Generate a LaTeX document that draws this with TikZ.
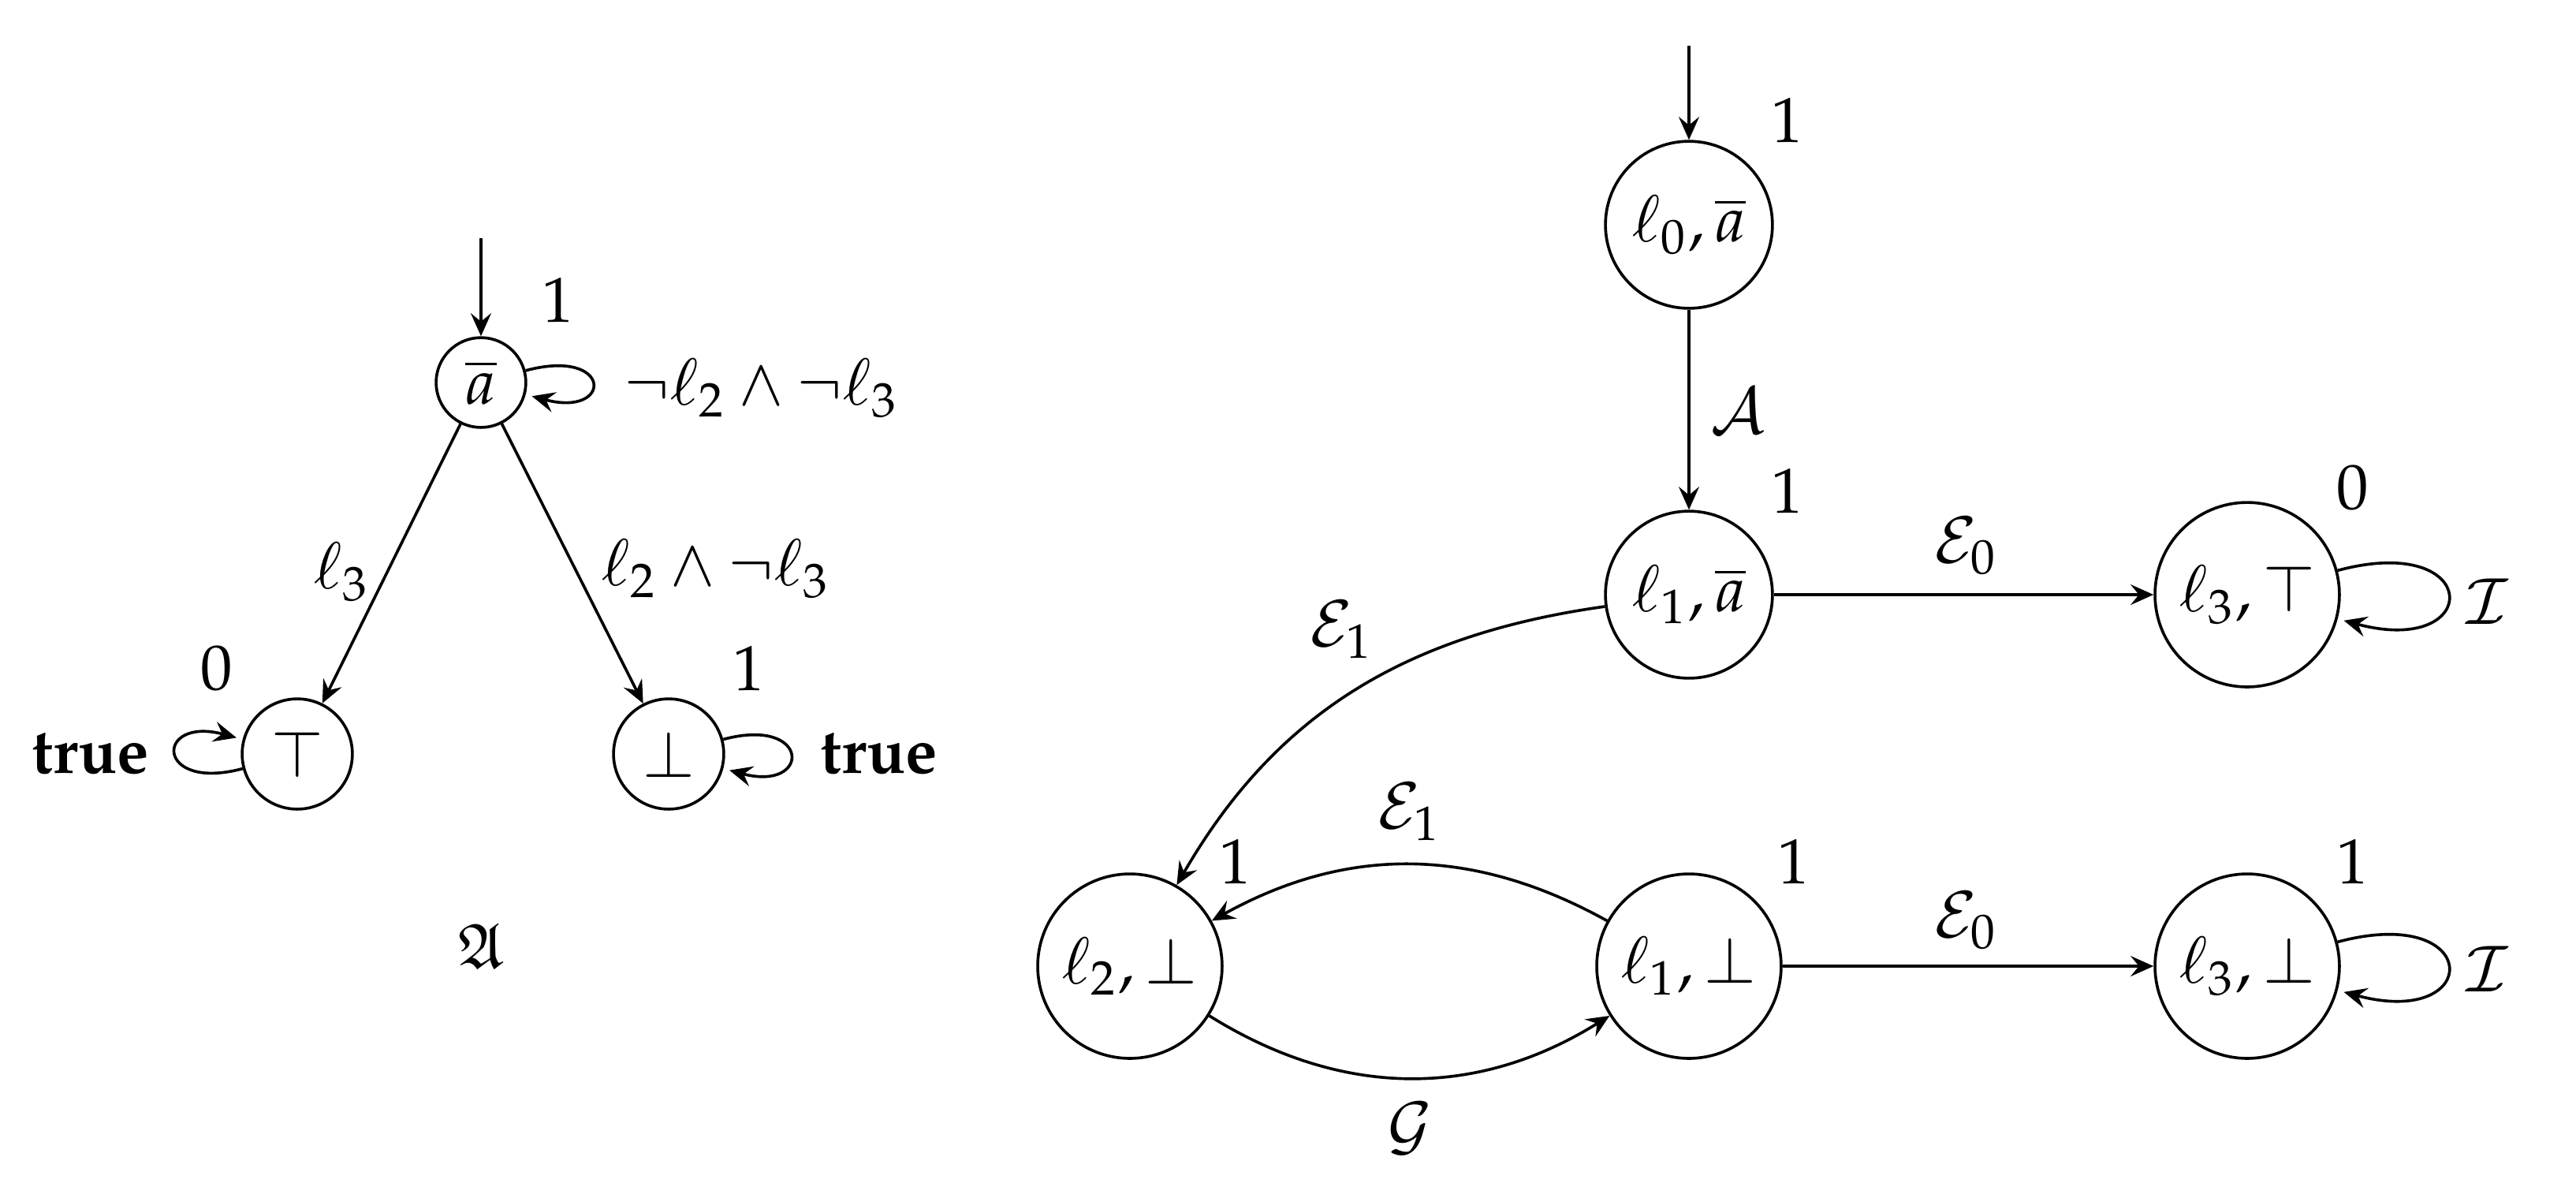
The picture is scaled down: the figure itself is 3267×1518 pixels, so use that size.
\documentclass[tikz,border=0pt]{standalone}
\usepackage[T1]{fontenc}
\usepackage{mathpazo}
\usepackage{amssymb}
\usetikzlibrary{arrows.meta}
\begin{document}
\begin{tikzpicture}[x=0.004346cm,y=0.004346cm,
  >={Stealth[length=3.6pt,width=3.2pt,inset=1.3pt]},
  state/.style={draw,circle,inner sep=0pt,line width=0.45pt},
  bigstate/.style={state,minimum size=0.921cm},
  widestate/.style={state,minimum size=1.017cm},
  smallstate/.style={state,minimum size=0.495cm},
  midstate/.style={state,minimum size=0.608cm},
  edgeline/.style={->,line width=0.45pt},
  lbl/.style={inner sep=0pt}]
\useasboundingbox (0,0) rectangle (3267,-1518);
% ---------- left automaton ----------
\node[smallstate] (a) at (610,-485) {$\overline{a}$};
\node[midstate] (t) at (377,-956) {$\top$};
\node[midstate] (b) at (848,-956) {$\bot$};
\coordinate (ainit) at (610,-302);
\draw[edgeline] (ainit) -- (a);
\node[lbl] (aw) at (708,-381) {$1$};
\node[lbl] (tw) at (275,-848) {$0$};
\node[lbl] (bw) at (950,-848) {$1$};
\draw[edgeline] (a) edge[loop right] (a);
\node[lbl] (al) at (966,-492) {$\neg\ell_2\wedge\neg\ell_3$};
\draw[edgeline] (a) -- (t);
\node[lbl] (atl) at (433,-725) {$\ell_3$};
\draw[edgeline] (a) -- (b);
\node[lbl] (abl) at (908,-721) {$\ell_2\wedge\neg\ell_3$};
\draw[edgeline] (t) edge[loop left] (t);
\node[lbl] (tl) at (115,-956) {\textbf{true}};
\draw[edgeline] (b) edge[loop right] (b);
\node[lbl] (bl) at (1115,-956) {\textbf{true}};
\node[lbl] (frakA) at (610,-1200) {$\mathfrak{A}$};
% ---------- right automaton ----------
\node[bigstate] (q0) at (2142,-285) {$\ell_0,\overline{a}$};
\node[bigstate] (q1) at (2142,-754) {$\ell_1,\overline{a}$};
\node[widestate] (q3t) at (2850,-754) {$\ell_3,\top$};
\node[widestate] (q2b) at (1433,-1225) {$\ell_2,\bot$};
\node[widestate] (q1b) at (2142,-1225) {$\ell_1,\bot$};
\node[widestate] (q3b) at (2850,-1225) {$\ell_3,\bot$};
\coordinate (qinit) at (2142,-58);
\draw[edgeline] (qinit) -- (q0);
\node[lbl] (w0) at (2267,-152) {$1$};
\node[lbl] (w1) at (2267,-623) {$1$};
\node[lbl] (w3t) at (2984,-619) {$0$};
\node[lbl] (w2b) at (1567,-1092) {$1$};
\node[lbl] (w1b) at (2275,-1092) {$1$};
\node[lbl] (w3b) at (2984,-1092) {$1$};
\draw[edgeline] (q0) -- (q1);
\node[lbl] (lA) at (2204,-521) {$\mathcal{A}$};
\draw[edgeline] (q1) -- (q3t);
\node[lbl] (lE0a) at (2494,-692) {$\mathcal{E}_0$};
\draw[edgeline] (q3t) edge[loop right] (q3t);
\node[lbl] (lIa) at (3154,-763) {$\mathcal{I}$};
\draw[edgeline] (q1) to[out=188,in=60] (q2b);
\node[lbl] (lE1a) at (1702,-798) {$\mathcal{E}_1$};
\draw[edgeline] (q1b) to[bend right=29] (q2b);
\node[lbl] (lE1b) at (1788,-1029) {$\mathcal{E}_1$};
\draw[edgeline] (q2b) to[bend right=32] (q1b);
\node[lbl] (lG) at (1788,-1431) {$\mathcal{G}$};
\draw[edgeline] (q1b) -- (q3b);
\node[lbl] (lE0b) at (2494,-1167) {$\mathcal{E}_0$};
\draw[edgeline] (q3b) edge[loop right] (q3b);
\node[lbl] (lIb) at (3154,-1229) {$\mathcal{I}$};
\end{tikzpicture}
\end{document}
